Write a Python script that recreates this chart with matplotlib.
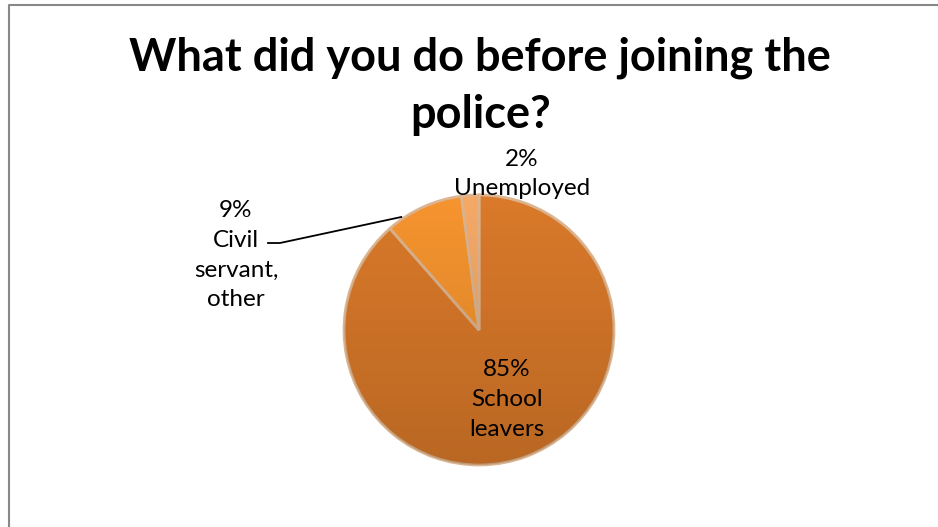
import numpy as np
import matplotlib.pyplot as plt

plt.rcParams['font.family'] = ['Lato', 'DejaVu Sans']

# survey answers
categories = ["School leavers", "Civil servant,\nother", "Unemployed"]
shares = [85, 9, 2]
slice_colors = ["#DB7A2A", "#F7952F", "#F6AA68"]
explode = [0.0, 0.035, 0.0]

title = "What did you do before joining the\npolice?"

fig = plt.figure(figsize=(9.38, 5.27), dpi=100)
ax = fig.add_axes([0, 0, 1, 1])

cx, cy, r = 479, 527 - 330, 135
wedges, _ = ax.pie(shares, colors=slice_colors, explode=explode,
                   startangle=90, counterclock=False,
                   center=(cx, cy), radius=r, frame=True,
                   wedgeprops=dict(edgecolor="#DDB590", linewidth=2.0))
ax.set_xlim(0, 938)
ax.set_ylim(0, 527)
ax.axis("off")

# darken towards the bottom for a bit of depth
shade = np.zeros((256, 1, 4))
shade[:, 0, 3] = np.linspace(0.0, 0.16, 256)
for w in wedges:
    im = ax.imshow(shade, aspect="auto", origin="upper",
                   extent=(cx - r - 10, cx + r + 10, cy - r - 10, cy + r + 10),
                   zorder=w.get_zorder() + 0.1)
    im.set_clip_path(w)

label_kw = dict(fontsize=17.5, ha="center", va="center", linespacing=1.52, color="#000000")

# big slice: label inside, along the wedge mid-angle
w = wedges[0]
mid = np.deg2rad((w.theta1 + w.theta2) / 2)
ax.text(cx + 0.5 * r * np.cos(mid) + 4, cy + 0.5 * r * np.sin(mid) - 6,
        f"{shares[0]}%\n{categories[0]}".replace(" ", "\n"), **label_kw)

# civil servant label with leader line
w = wedges[1]
mid = np.deg2rad((w.theta1 + w.theta2) / 2)
ox, oy = w.center
ex, ey = ox + r * np.cos(mid) - 22, oy + r * np.sin(mid) - 10
ax.text(236, 527 - 255, f"{shares[1]}%\nCivil\nservant,\nother", **label_kw)
ax.plot([268, 280, ex], [527 - 243, 527 - 243, ey], color="black", lw=1.3)

# unemployed label above the pie
ax.text(522, 527 - 174, f"{shares[2]}%\n{categories[2]}", **label_kw)

fig.text(0.512, 1 - 86 / 527, title, fontsize=32.5, fontweight="bold",
         ha="center", va="center", linespacing=1.43)

# chart area border (top and left edges)
ax.plot([8.5, 8.5, 938], [0, 527 - 4.5, 527 - 4.5], color="#888888", lw=1.5,
        clip_on=False)

fig.savefig("out.png", dpi=100)
